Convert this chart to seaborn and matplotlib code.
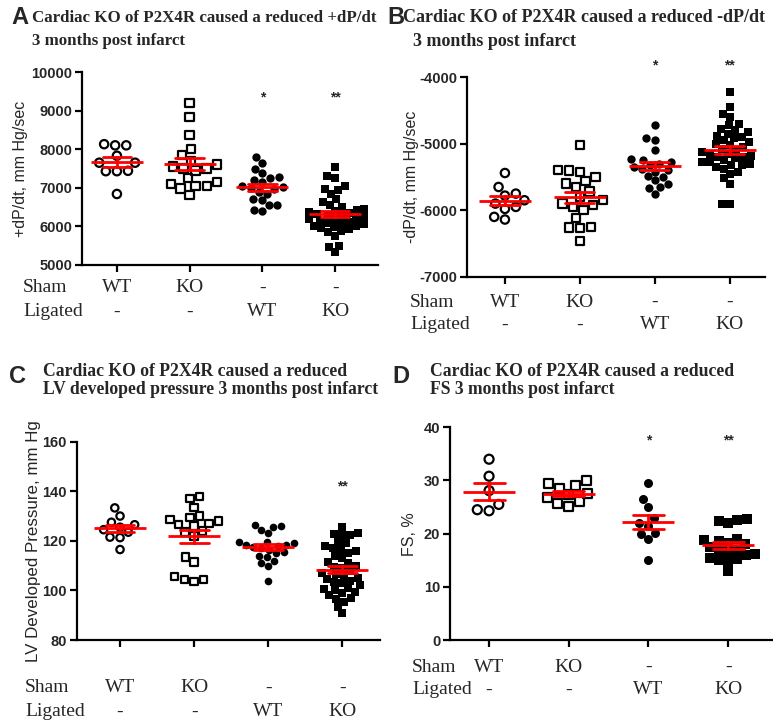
"""
plot.py
-------
P2X4R knockout: dP/dt, LV developed pressure and FS dot plots (mean +/- SEM).
"""

import matplotlib
matplotlib.use("Agg")
import matplotlib.pyplot as plt
import matplotlib.transforms as mtransforms
import pandas as pd
import seaborn as sns

W, H = 773, 723

groups = ["Sham WT", "Sham KO", "Lig WT", "Lig KO"]
sham_row = ["WT", "KO", "-", "-"]
lig_row = ["-", "-", "WT", "KO"]

# A: +dP/dt, mm Hg/sec
a_sham_wt = [8100, 8100, 8130, 7830, 7650, 7650, 7430, 7430, 7440, 6840]
a_sham_ko = [9200, 8830, 8370, 8000, 7850, 7700, 7600, 7550, 7500, 7500, 7450,
             7250, 7150, 7100, 7050, 7050, 6980, 6820]
a_lig_wt = [7790, 7650, 7500, 7380, 7270, 7260, 7200, 7150, 7050, 7030, 7000,
            6980, 6900, 6850, 6700, 6680, 6560, 6550, 6420, 6400]
a_lig_ko = [7550, 7300, 7250, 7050, 6980, 6950, 6850, 6700, 6620, 6560, 6500,
            6450, 6420, 6400, 6380, 6350, 6330, 6300, 6280, 6250, 6220, 6200,
            6180, 6150, 6120, 6100, 6080, 6050, 6020, 6000, 5980, 5950, 5920,
            5880, 5850, 5750, 5500, 5470, 5330]

# B: -dP/dt, mm Hg/sec
b_sham_wt = [-5440, -5650, -5750, -5780, -5850, -5900, -5950, -5980, -6100, -6140]
b_sham_ko = [-5020, -5390, -5400, -5420, -5500, -5560, -5600, -5650, -5720, -5800,
             -5850, -5900, -5920, -5950, -6000, -6120, -6250, -6260, -6270, -6460]
b_lig_wt = [-4720, -4920, -4950, -5100, -5230, -5250, -5280, -5300, -5320, -5350,
            -5380, -5400, -5420, -5480, -5500, -5550, -5600, -5650, -5660, -5750]
b_lig_ko = [-4220, -4440, -4550, -4600, -4700, -4720, -4780, -4800, -4830, -4850,
            -4880, -4900, -4920, -4950, -4980, -5000, -5020, -5050, -5080, -5100,
            -5120, -5150, -5150, -5180, -5200, -5200, -5220, -5250, -5270, -5280,
            -5300, -5320, -5320, -5350, -5380, -5420, -5450, -5520, -5600, -5900,
            -5900]

# C: LV developed pressure, mm Hg
c_sham_wt = [133.3, 130, 127.5, 126.5, 125.5, 124.5, 123.5, 121.5, 121.3, 116.5]
c_sham_ko = [138, 137, 133.5, 130, 129.5, 128.5, 128, 127, 126.5, 126, 124, 123.5,
             122, 113.5, 111.5, 105.5, 104.5, 104.5, 103.5]
c_lig_wt = [126.3, 126, 125.5, 124.5, 123, 119.5, 119, 118.5, 119.5, 118.5, 118,
            117.5, 117, 116.5, 115.5, 115, 114, 113.5, 112, 111, 110, 104]
c_lig_ko = [125.5, 123, 122.8, 122.5, 122.3, 119.5, 119, 118, 117, 116.5, 116, 115,
            114, 113, 111.5, 111, 110, 109.5, 109, 108, 107, 106.5, 106, 105, 104.5,
            104, 103.5, 103, 102, 101, 100.5, 100, 99.5, 99, 98, 97, 96.5, 95.5,
            93.5, 91]

# D: FS, %
d_sham_wt = [34, 30.8, 28.1, 25.5, 24.3, 24.5]
d_sham_ko = [30, 29.5, 29, 28.5, 27.5, 27.3, 26.8, 26, 25.7, 25.1]
d_lig_wt = [29.5, 26.5, 25.1, 22.9, 22, 21.5, 20.2, 20, 18.9, 15.1]
d_lig_ko = [22.7, 22.5, 22.3, 22, 19, 18.8, 18.6, 18.3, 18, 17.5, 17, 16.8, 16.5,
            16.2, 16, 15.5, 15.2, 15, 14.7, 13]

sns.set_style("ticks")
plt.rcParams["font.family"] = ["Liberation Sans", "DejaVu Sans"]
plt.rcParams["axes.unicode_minus"] = False
SERIF = "Liberation Serif"

fig = plt.figure(figsize=(W / 100, H / 100), dpi=100)


def px(x, y):
    return x / W, 1 - y / H


def panel(rect, data, ylim, yticks, xlim, ylabel, label_x, label_fs, stars, sizes):
    ax = fig.add_axes(rect)
    styles = [("o", True), ("s", True), ("o", False), ("s", False)]
    frames = []
    for g, vals, (m, hollow), sz in zip(groups, data, styles, sizes):
        df = pd.DataFrame({"group": g, "value": vals})
        frames.append(df)
        if hollow:
            sns.swarmplot(data=df, x="group", y="value", order=groups, ax=ax,
                          marker=m, size=sz, color="black", facecolor="none",
                          edgecolor="black", linewidth=1.6, zorder=3)
        else:
            sns.swarmplot(data=df, x="group", y="value", order=groups, ax=ax,
                          marker=m, size=sz, color="black", linewidth=0, zorder=3)
    sns.pointplot(data=pd.concat(frames), x="group", y="value", order=groups,
                  errorbar="se", color="red", marker="_", markersize=37,
                  markeredgewidth=2.0, linestyle="none", capsize=0.39,
                  err_kws={"linewidth": 2.0, "zorder": 5}, ax=ax, zorder=6)
    ax.set_ylim(*ylim)
    ax.set_yticks(yticks)
    ax.set_xlim(*xlim)
    ax.set_xticklabels([])
    ax.set_xlabel("")
    ax.set_ylabel(ylabel, fontsize=label_fs)
    ax.yaxis.set_label_coords(label_x, 0.5)
    sns.despine(ax=ax)
    for s in ("left", "bottom"):
        ax.spines[s].set_linewidth(1.6)
        ax.spines[s].set_color("black")
    ax.tick_params(width=1.6, length=5, color="black", pad=2)
    for t in ax.get_yticklabels():
        t.set_fontweight("bold")
        t.set_fontsize(10.5)
    for gi, txt, yv in stars:
        ax.text(gi, yv, txt, ha="center", va="center", fontsize=10,
                fontweight="bold", clip_on=False)
    return ax


def rows(ax, x0, y1, y2):
    tr = mtransforms.blended_transform_factory(ax.transData, fig.transFigure)
    fig.text(*px(x0, y1), "Sham", family=SERIF, fontsize=14, va="center")
    fig.text(*px(x0, y2), "Ligated", family=SERIF, fontsize=14, va="center")
    for i in range(4):
        ax.text(i, px(0, y1)[1], sham_row[i], transform=tr, family=SERIF,
                fontsize=14, ha="center", va="center")
        ax.text(i, px(0, y2)[1], lig_row[i], transform=tr, family=SERIF,
                fontsize=14, ha="center", va="center")


def title(letter, lx, ly, lines, fs=12.7):
    fig.text(*px(lx, ly), letter, fontsize=17, fontweight="bold", va="center")
    for x, y, s in lines:
        fig.text(*px(x, y), s, family=SERIF, fontsize=fs, fontweight="bold",
                 va="center")


ax_a = panel([82 / W, 1 - 265 / H, 296 / W, 193 / H],
             [a_sham_wt, a_sham_ko, a_lig_wt, a_lig_ko],
             (5000, 10000), range(5000, 10001, 1000), (-0.48, 3.59),
             "+dP/dt, mm Hg/sec", -0.182, 11.5,
             [(2, "*", 9350), (3, "**", 9350)], [6, 6, 6, 5.5])
ax_b = panel([466.7 / W, 1 - 276.7 / H, 298.3 / W, 199.4 / H],
             [b_sham_wt, b_sham_ko, b_lig_wt, b_lig_ko],
             (-7000, -4000), range(-7000, -3999, 1000), (-0.51, 3.47),
             "-dP/dt, mm Hg/sec", -0.16, 11.5,
             [(2, "*", -3815), (3, "**", -3815)], [6, 6, 6, 5.5])
ax_c = panel([76.7 / W, 1 - 640 / H, 303.3 / W, 198.3 / H],
             [c_sham_wt, c_sham_ko, c_lig_wt, c_lig_ko],
             (80, 160), range(80, 161, 20), (-0.585, 3.51),
             "LV Developed Pressure, mm Hg", -0.118, 12.2,
             [(3, "**", 141.8)], [5.3, 5.3, 5.5, 5.5])
ax_d = panel([450 / W, 1 - 640 / H, 322 / W, 212.7 / H],
             [d_sham_wt, d_sham_ko, d_lig_wt, d_lig_ko],
             (0, 40), range(0, 41, 10), (-0.49, 3.55),
             "FS, %", -0.102, 11.5,
             [(2, "*", 37.6), (3, "**", 37.6)], [6.5, 6.5, 6.5, 6.5])

title("A", 11, 18, [(32, 18, "Cardiac KO of P2X4R caused a reduced +dP/dt"),
                    (32, 41, "3 months post infarct")], fs=12.2)
title("B", 387, 18, [(403, 18, "Cardiac KO of P2X4R caused a reduced -dP/dt"),
                     (413, 42, "3 months post infarct")], fs=13.0)
title("C", 9, 376, [(43, 372, "Cardiac KO of P2X4R caused a reduced"),
                    (43, 390, "LV developed pressure 3 months post infarct")])
title("D", 392, 376, [(430, 372, "Cardiac KO of P2X4R caused a reduced"),
                      (430, 390, "FS 3 months post infarct")])

rows(ax_a, 23, 288, 312)
rows(ax_b, 410, 302, 325)
rows(ax_c, 25, 688, 712)
rows(ax_d, 412, 667, 690)

fig.savefig("out.png", dpi=100)
